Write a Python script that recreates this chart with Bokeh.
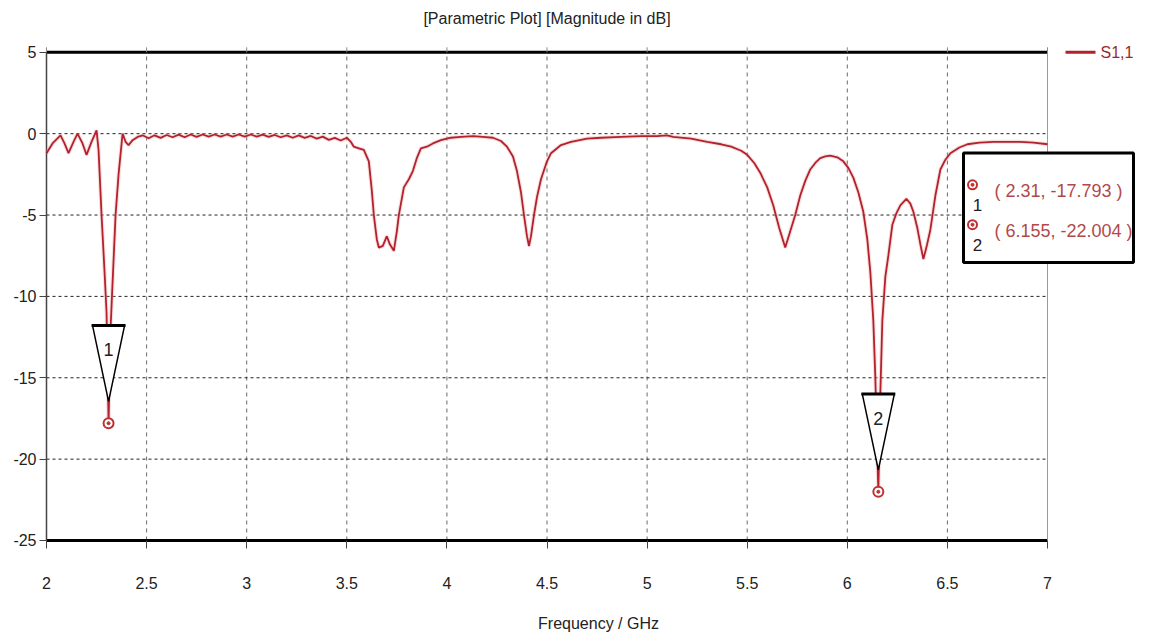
from bokeh.plotting import figure
from bokeh.models import Range1d, FixedTicker
from bokeh.core.properties import value
from bokeh.embed import file_html
from bokeh.resources import INLINE

# ---------------- data ----------------
freq = [2.00, 2.03, 2.07, 2.09, 2.11, 2.135, 2.155, 2.18, 2.20, 2.225, 2.25,
        2.26, 2.275, 2.29, 2.30, 2.31, 2.32, 2.327, 2.345, 2.36, 2.38, 2.395,
        2.41, 2.43, 2.455,
        2.48, 2.51, 2.54, 2.57, 2.60, 2.63, 2.66, 2.69, 2.72, 2.75, 2.78, 2.81,
        2.84, 2.87, 2.90, 2.93, 2.96, 2.99, 3.02, 3.05, 3.08, 3.11, 3.14, 3.17,
        3.20, 3.23, 3.26, 3.29, 3.32, 3.35, 3.38, 3.41, 3.44, 3.47, 3.50, 3.52,
        3.535, 3.56, 3.585, 3.61, 3.625, 3.635, 3.65, 3.66, 3.68, 3.70, 3.715,
        3.735, 3.75, 3.76, 3.785, 3.81, 3.83, 3.85, 3.87, 3.90, 3.93, 3.97,
        4.02, 4.07, 4.13, 4.18, 4.23, 4.27, 4.30, 4.33, 4.35, 4.37, 4.385,
        4.40, 4.41, 4.42, 4.435, 4.45, 4.47, 4.50, 4.52, 4.57, 4.62, 4.70,
        4.77, 4.87, 4.97, 5.05, 5.10, 5.13, 5.22, 5.30, 5.37, 5.42, 5.47,
        5.50, 5.535, 5.565, 5.60, 5.63, 5.66, 5.69, 5.715, 5.74, 5.765, 5.79,
        5.815, 5.84, 5.865, 5.89, 5.915, 5.95, 5.98, 6.005, 6.03, 6.055, 6.08,
        6.10, 6.115, 6.13, 6.14, 6.155, 6.165, 6.175, 6.19, 6.205, 6.225,
        6.245, 6.265, 6.295, 6.315, 6.33, 6.35, 6.365, 6.38, 6.395, 6.415,
        6.44, 6.465, 6.49, 6.515, 6.56, 6.60, 6.66, 6.73, 6.80, 6.865, 6.93,
        7.00]
s11_db = [-1.2, -0.6, -0.1, -0.6, -1.2, -0.5, 0.0, -0.6, -1.3, -0.5, 0.2,
          -1.0, -5.0, -8.5, -11.0, -17.793, -12.0, -10.0, -5.0, -2.5, 0.0, -0.5,
          -0.7, -0.4, -0.2,
          -0.1, -0.28, -0.1, -0.26, -0.08, -0.22, -0.06, -0.22, -0.05, -0.2, -0.05,
          -0.18, -0.05, -0.18, -0.05, -0.18, -0.05, -0.18, -0.05, -0.18, -0.06, -0.2,
          -0.08, -0.22, -0.1, -0.25, -0.1, -0.26, -0.14, -0.3, -0.18, -0.38, -0.26,
          -0.42, -0.25, -0.5,
          -0.8, -0.9, -1.0, -1.7, -3.5, -5.0, -6.5, -7.0, -6.9, -6.3, -6.8,
          -7.2, -6.0, -5.0, -3.3, -2.8, -2.3, -1.5, -0.9, -0.8, -0.6, -0.4,
          -0.25, -0.2, -0.15, -0.2, -0.25, -0.45, -0.8, -1.4, -2.3, -3.6, -5.0,
          -6.3, -6.9, -6.3, -5.0, -3.9, -2.8, -1.7, -1.2, -0.7, -0.5, -0.3,
          -0.25, -0.2, -0.15, -0.15, -0.1, -0.2, -0.3, -0.5, -0.65, -0.8, -1.05,
          -1.3, -1.8, -2.4, -3.3, -4.4, -5.8, -7.0, -6.0, -5.0, -3.8, -2.9,
          -2.2, -1.8, -1.5, -1.4, -1.35, -1.45, -1.7, -2.1, -2.7, -3.6, -4.8,
          -6.5, -8.5, -11.5, -15.0, -22.004, -16.0, -11.5, -8.8, -7.5, -5.6,
          -4.9, -4.4, -4.0, -4.3, -4.8, -5.8, -6.8, -7.7, -7.0, -5.9,
          -3.8, -2.2, -1.6, -1.2, -0.85, -0.65, -0.55, -0.5, -0.5, -0.5, -0.55,
          -0.65]

x_ticks = [2, 2.5, 3, 3.5, 4, 4.5, 5, 5.5, 6, 6.5, 7]
x_tick_labels = ["2", "2.5", "3", "3.5", "4", "4.5", "5", "5.5", "6", "6.5", "7"]
y_ticks = [-25, -20, -15, -10, -5, 0, 5]
y_tick_labels = ["-25", "-20", "-15", "-10", "-5", "0", "5"]

marker_ids = ["1", "2"]
marker_freq = [2.31, 6.155]
marker_db = [-17.793, -22.004]

series_name = "S1,1"
title_text = "[Parametric Plot] [Magnitude in dB]"
x_label = "Frequency / GHz"

# ---------------- layout ----------------
FONT = "'Liberation Sans', Arial, sans-serif"
CURVE = "#b3222c"
TXT_RED = "#b04a4a"

PX_X = 200.2     # pixels per GHz
PX_Y = 16.333    # pixels per dB
X0, X1 = x_ticks[0], x_ticks[-1]
Y0, Y1 = y_ticks[0], y_ticks[-1]

ML, MB = 44, 90
W = 1152
H = 544 + MB
FW, FH = W - ML, 544
xs = X0 - 2 / PX_X
xe = xs + FW / PX_X
ye = Y1 + 52 / PX_Y
ys = ye - FH / PX_Y


def dx(px):
    return px / PX_X


def dy(px):
    return px / PX_Y


# reference-picture pixel -> data (for layout only)
def fx(px):
    return X0 + (px - 46) / PX_X


def fy(py):
    return Y1 - (py - 52) / PX_Y


p = figure(width=W, height=H, output_backend="svg", toolbar_location=None,
           x_range=Range1d(xs, xe), y_range=Range1d(ys, ye),
           min_border_left=ML, min_border_right=0, min_border_top=0,
           min_border_bottom=MB)
p.outline_line_color = None
p.background_fill_color = "white"
p.border_fill_color = "white"
p.grid.visible = False

# axes
p.xaxis.ticker = FixedTicker(ticks=x_ticks)
p.yaxis.ticker = FixedTicker(ticks=y_ticks)
p.xaxis.major_label_overrides = {t: l for t, l in zip(x_ticks, x_tick_labels)}
p.yaxis.major_label_overrides = {t: l for t, l in zip(y_ticks, y_tick_labels)}
for ax in (p.xaxis[0], p.yaxis[0]):
    ax.axis_line_color = None
    ax.minor_tick_line_color = None
    ax.major_tick_line_color = "#444"
    ax.major_label_text_font = FONT
    ax.major_label_text_font_size = "16px"
    ax.major_label_text_color = "#222"
p.xaxis.major_tick_out = 6
p.xaxis.major_tick_in = 2
p.xaxis.major_label_standoff = 28
p.xaxis.axis_label = x_label
p.xaxis.axis_label_text_font = FONT
p.xaxis.axis_label_text_font_size = "16px"
p.xaxis.axis_label_text_font_style = "normal"
p.xaxis.axis_label_text_color = "#222"
p.xaxis.axis_label_standoff = 23
p.yaxis.major_tick_out = 5
p.yaxis.major_tick_in = 2
p.yaxis.major_label_standoff = 3

# grid
gx = x_ticks[1:-1]
gy = y_ticks[1:-1]
p.segment(x0=gx, y0=[Y0] * len(gx), x1=gx, y1=[Y1] * len(gx),
          line_color="#6a6a6a", line_width=1, line_dash="4 4")
p.segment(x0=[X0] * len(gy), y0=gy, x1=[X1] * len(gy), y1=gy,
          line_color="#222", line_width=1, line_dash="3 3")

# frame lines
p.segment(x0=[X0], y0=[Y1], x1=[X1], y1=[Y1], line_color="black", line_width=3)
p.segment(x0=[X0], y0=[Y0], x1=[X1], y1=[Y0], line_color="black", line_width=3)
p.segment(x0=[X0], y0=[Y0], x1=[X0], y1=[Y1], line_color="#444", line_width=1.5)
p.segment(x0=[X1], y0=[Y0], x1=[X1], y1=[Y1], line_color="#999", line_width=1)
# small top ticks
p.segment(x0=x_ticks, y0=[Y1] * len(x_ticks), x1=x_ticks,
          y1=[Y1 + dy(5)] * len(x_ticks), line_color="#888", line_width=1)

# curve
p.line(freq, s11_db, line_color="#e8a0a0", line_width=4, line_alpha=0.35)
p.line(freq, s11_db, line_color=CURVE, line_width=1.8)

# markers: triangles
for mid, mf, md in zip(marker_ids, marker_freq, marker_db):
    top = md + dy(98)
    apex = md + dy(22)
    hw = dx(16)
    p.patch([mf - hw, mf + hw, mf], [top, top, apex], fill_color="white",
            line_color="black", line_width=1.5)
    p.segment(x0=[mf - hw - dx(1)], y0=[top], x1=[mf + hw + dx(1)], y1=[top],
              line_color="black", line_width=3)
    p.text(x=[mf], y=[md + dy(74)], text=[mid], text_font=value(FONT),
           text_font_size="18px", text_align="center", text_baseline="middle",
           text_color="#222")
p.scatter(marker_freq, marker_db, size=10, marker="circle", fill_color="white",
          line_color="#c03030", line_width=2)
p.scatter(marker_freq, marker_db, size=3, marker="circle", fill_color="#c03030",
          line_color="#c03030")

# marker info box
bl, bt, br, bb = fx(963), fy(153), fx(1133), fy(263)
p.quad(left=[bl], right=[br], top=[bt], bottom=[bb], fill_color="white",
       line_color="black", line_width=3)
n = len(marker_ids)
row_c = [bt - dy(32 + 40 * i) for i in range(n)]
row_t = [bt - dy(38 + 40 * i) for i in range(n)]
row_n = [bt - dy(52 + 40 * i) for i in range(n)]
p.scatter([bl + dx(9)] * n, row_c, size=9, marker="circle", fill_color="white",
          line_color="#c03030", line_width=2)
p.scatter([bl + dx(9)] * n, row_c, size=3, marker="circle", fill_color="#c03030",
          line_color="#c03030")
p.text(x=[bl + dx(14)] * n, y=row_n, text=marker_ids, text_font=value(FONT),
       text_font_size="17px", text_align="center", text_baseline="middle",
       text_color="#222")
p.text(x=[bl + dx(31)] * n, y=row_t,
       text=[f"( {f}, {d} )" for f, d in zip(marker_freq, marker_db)],
       text_font=value(FONT), text_font_size="18px", text_align="left",
       text_baseline="middle", text_color=TXT_RED)

# legend
p.segment(x0=[fx(1065)], y0=[fy(52)], x1=[fx(1095)], y1=[fy(52)],
          line_color=CURVE, line_width=3)
p.text(x=[fx(1100)], y=[fy(52)], text=[series_name], text_font=value(FONT),
       text_font_size="16px", text_align="left", text_baseline="middle",
       text_color="#9a2a2a")

# title
p.text(x=[(X0 + X1) / 2], y=[fy(18)], text=[title_text], text_font=value(FONT),
       text_font_size="16px", text_align="center", text_baseline="middle",
       text_color="#222")

open("out.html", "w").write(file_html(p, INLINE))
